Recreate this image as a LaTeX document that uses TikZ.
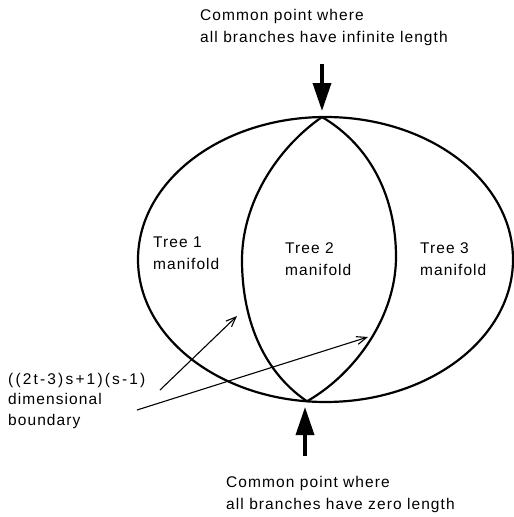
\documentclass[tikz,border=0pt]{standalone}
\usepackage{fontspec}
\setmainfont{Liberation Sans}
\newfontfamily\labfont[LetterSpace=7]{Liberation Sans}
\newfontfamily\labwide[LetterSpace=14]{Liberation Sans}
\usetikzlibrary{arrows.meta}
\begin{document}
\begin{tikzpicture}[x=1pt,y=-1pt,
  lbl/.style={font=\labfont\fontsize{15.5}{22}\selectfont, align=left, inner sep=0pt, anchor=north west},
  curve/.style={line width=2.2pt},
  bigarrow/.style={line width=3.5pt, -{Triangle[length=28pt,width=18pt]}},
  thinarrow/.style={line width=1.1pt, -{Straight Barb[length=10pt,width=8pt]}}]
\useasboundingbox (0,0) rectangle (514,517);
% texts
\node[lbl] (topText) at (200,9) {Common point where\\all branches have infinite length};
\node[lbl] (botText) at (226,476) {Common point where\\all branches have zero length};
\node[lbl] (t1) at (153,237) {Tree 1\\manifold};
\node[lbl] (t2) at (285,242) {Tree 2\\manifold};
\node[lbl] (t3) at (420,242) {Tree 3\\manifold};
\node[lbl, font=\labfont\fontsize{15.5}{20.5}\selectfont] (bnd) at (8,373) {{\labwide ((2t-3)s+1)(s-1)}\\dimensional\\boundary};
% geometry
\coordinate (T) at (322,117);
\coordinate (B) at (307,401.3);
\coordinate (L) at (242,260);
\coordinate (R) at (396,257);
\draw[curve] (325.5,259.5) ellipse [x radius=187.5, y radius=142.5];
\draw[curve] (T) .. controls (276,149) and (242,204) .. (L) .. controls (242,316) and (261,370) .. (B);
\draw[curve] (T) .. controls (372,146.5) and (396,199) .. (R) .. controls (396,315) and (357,372.5) .. (B);
% thick arrows
\coordinate (topTail) at (322,64);
\coordinate (topTip) at (322,111);
\draw[bigarrow] (topTail) -- (topTip);
\coordinate (botTail) at (305,456);
\coordinate (botTip) at (305,407);
\draw[bigarrow] (botTail) -- (botTip);
% thin arrows
\coordinate (a1s) at (160,390);
\coordinate (a1e) at (237,316);
\coordinate (a2s) at (137,410);
\coordinate (a2e) at (368,337);
\draw[thinarrow] (a1s) -- (a1e);
\draw[thinarrow] (a2s) -- (a2e);
\end{tikzpicture}
\end{document}
